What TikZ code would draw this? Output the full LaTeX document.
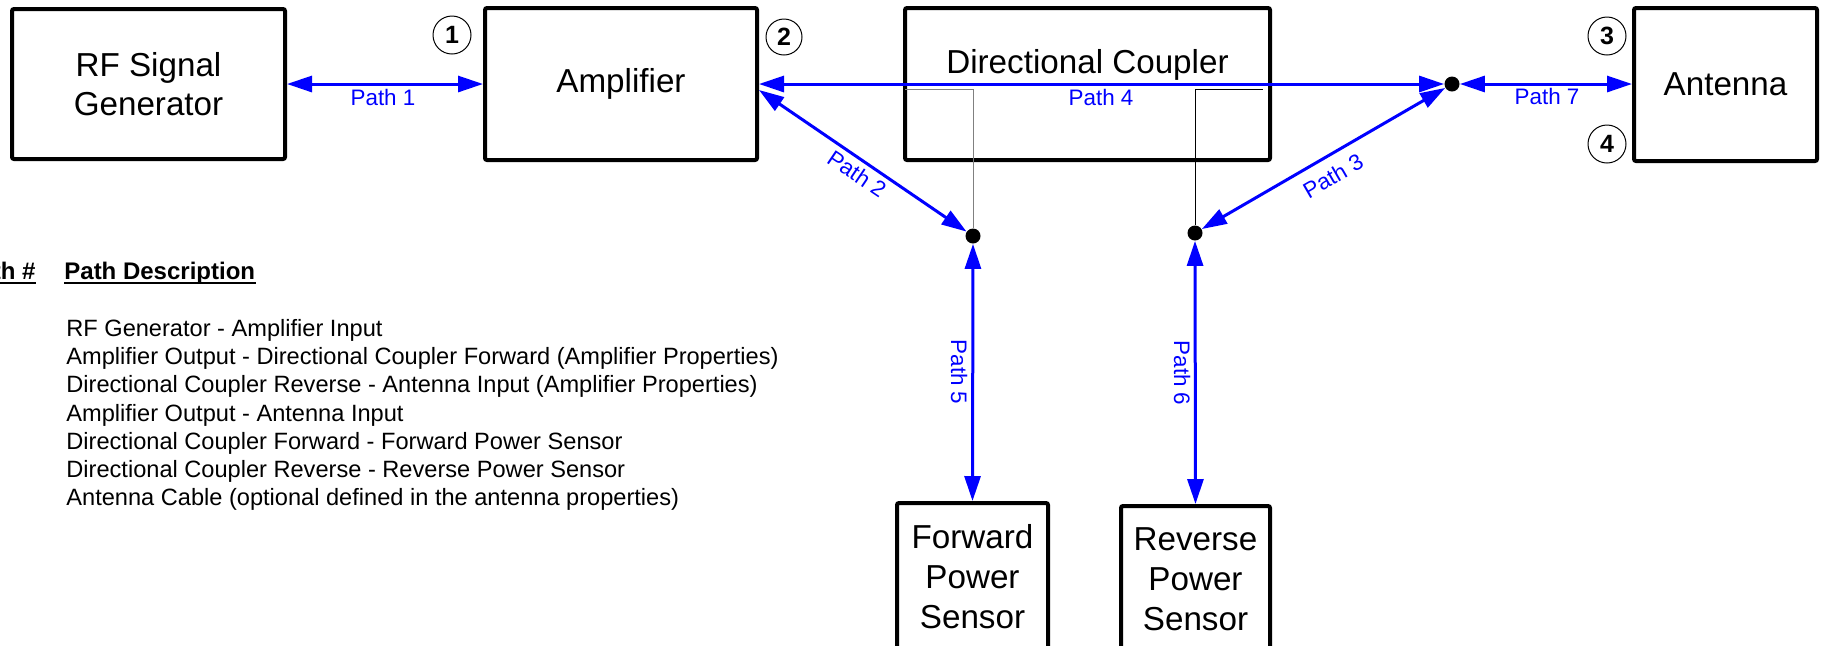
\documentclass[tikz,border=0pt]{standalone}
\usepackage{fontspec}
\setmainfont{Liberation Sans}
\usetikzlibrary{arrows.meta}
\definecolor{linkblue}{RGB}{0,0,255}
\begin{document}
\begin{tikzpicture}[x=0.5pt,y=-0.5pt,
  blockbox/.style={draw=black,line width=2pt,rounded corners=1pt,inner sep=0pt,align=center,font=\fontsize{16.6}{19.5}\selectfont},
  sensorbox/.style={blockbox,font=\fontsize{16.6}{20}\selectfont},
  numtag/.style={circle,draw=black,line width=0.5pt,minimum size=19pt,inner sep=0pt,font=\fontsize{12.5}{14}\selectfont\bfseries},
  junction/.style={circle,fill=black,minimum size=7.5pt,inner sep=0pt},
  pathlink/.style={draw=linkblue,line width=1.5pt,{Triangle[length=12.5pt,width=8pt]}-{Triangle[length=12.5pt,width=8pt]}},
  plabel/.style={text=linkblue,font=\fontsize{11.2}{13}\selectfont,inner sep=0pt},
  tablerow/.style={anchor=base west,inner sep=0pt,font=\fontsize{11.8}{14}\selectfont},
  tablehead/.style={inner sep=0pt,font=\fontsize{12}{14}\selectfont\bfseries},
  tapline/.style={line width=0.5pt}
]
\useasboundingbox (0,0) rectangle (1822,645);
\fill[white] (0,0) rectangle (1822,645);
\clip (0,0) rectangle (1822,645);

% main blocks
\node[blockbox,minimum width=136.5pt,minimum height=75pt] (rf) at (148.5,84) {RF Signal\\Generator};
\node[blockbox,minimum width=136pt,minimum height=76pt] (amp) at (621,84) {Amplifier};
\node[blockbox,minimum width=182.5pt,minimum height=76pt] (cpl) at (1087.5,84) {};
\node[font=\fontsize{16.6}{19.5}\selectfont,inner sep=0pt,anchor=base] (cpltext) at (1087.5,73) {Directional Coupler};
\node[blockbox,minimum width=91.5pt,minimum height=76.5pt] (ant) at (1725.5,84.5) {Antenna};
\node[sensorbox,minimum width=75.5pt,minimum height=74pt] (fwd) at (972.5,577) {Forward\\Power\\Sensor};
\node[sensorbox,minimum width=74.5pt,minimum height=73pt] (rev) at (1195.5,579) {Reverse\\Power\\Sensor};

% numbered tags
\node[numtag] (n1) at (452,35) {1};
\node[numtag,minimum size=18pt] (n2) at (784,37) {2};
\node[numtag] (n3) at (1607,36) {3};
\node[numtag] (n4) at (1607,144) {4};

% junction dots
\node[junction] (fdot) at (973,236) {};
\node[junction] (rdot) at (1195,233) {};
\node[junction] (adot) at (1452,84) {};

% coupler taps
\coordinate (tapL) at (905,89);
\coordinate (tapR) at (1263,89);
\draw[tapline,draw=gray] (fdot) |- (tapL);
\draw[tapline,draw=black] (rdot) |- (tapR);

% paths
\draw[pathlink] (rf.east) -- (amp.west);
\draw[pathlink] (amp.east) -- (adot);
\draw[pathlink] ([yshift=-3pt]amp.east) -- (fdot);
\draw[pathlink] (rdot) -- (adot);
\draw[pathlink] (adot) -- (ant.west |- adot);
\draw[pathlink] (fdot) -- (fwd.north);
\draw[pathlink] (rdot) -- (rev.north);

% path labels
\node[plabel,anchor=base] (p1) at (383,105) {Path 1};
\node[plabel,rotate=-34] (p2) at (857,174) {Path 2};
\node[plabel,rotate=30] (p3) at (1333,176) {Path 3};
\node[plabel,anchor=base] (p4) at (1101,105) {Path 4};
\node[plabel,rotate=-90] (p5) at (959,372) {Path 5};
\node[plabel,rotate=-90] (p6) at (1182,373) {Path 6};
\node[plabel,anchor=base] (p7) at (1547,104) {Path 7};

% table
\node[tablehead,anchor=base east] (h0) at (36,279) {Path \#};
\node[tablehead,anchor=base west] (h1) at (64,279) {Path Description};
\draw[line width=0.75pt] ([yshift=-2pt]h0.base west) -- ([yshift=-2pt]h0.base east);
\draw[line width=0.75pt] ([yshift=-2pt]h1.base west) -- ([yshift=-2pt]h1.base east);

\node[tablerow] (r1) at (66,336) {RF Generator - Amplifier Input};
\node[tablerow] (r2) at (66,364.3) {Amplifier Output - Directional Coupler Forward (Amplifier Properties)};
\node[tablerow] (r3) at (66,392.6) {Directional Coupler Reverse - Antenna Input (Amplifier Properties)};
\node[tablerow] (r4) at (66,421) {Amplifier Output - Antenna Input};
\node[tablerow] (r5) at (66,449.2) {Directional Coupler Forward - Forward Power Sensor};
\node[tablerow] (r6) at (66,477.5) {Directional Coupler Reverse - Reverse Power Sensor};
\node[tablerow] (r7) at (66,505.8) {Antenna Cable (optional defined in the antenna properties)};
\end{tikzpicture}
\end{document}
